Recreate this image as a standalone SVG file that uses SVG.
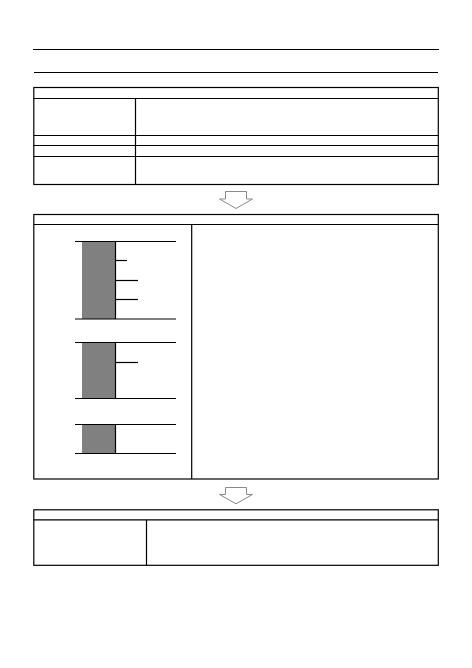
<svg xmlns="http://www.w3.org/2000/svg" width="472" height="668" viewBox="0 0 472 668">
<style>
.ln{stroke:#000;stroke-width:1.2;fill:none}
.box{stroke:#000;stroke-width:1.2;fill:#fff}
.arrow{stroke:#8a8a8a;stroke-width:1;fill:#fff}
.bar{fill:#808080;stroke:none}
</style>
<rect width="472" height="668" fill="#fff"/>
<g id="rules">
<line class="ln" x1="33" y1="49.5" x2="439" y2="49.5"/>
<line class="ln" x1="34" y1="72.5" x2="438" y2="72.5"/>
</g>
<g id="box1">
<rect class="box" x="33.8" y="87.5" width="404.5" height="97"/>
<line class="ln" x1="33.8" y1="98.5" x2="438.3" y2="98.5"/>
<line class="ln" x1="33.8" y1="135.5" x2="438.3" y2="135.5"/>
<line class="ln" x1="33.8" y1="145.5" x2="438.3" y2="145.5"/>
<line class="ln" x1="33.8" y1="156.5" x2="438.3" y2="156.5"/>
<line class="ln" x1="135.5" y1="98.5" x2="135.5" y2="184.5"/>
</g>
<g id="connectors">
<polygon class="arrow" points="225.5,191.5 246.5,191.5 246.5,199 252.5,199 236,208.5 219.5,199 225.5,199"/>
<polygon class="arrow" points="225.5,487.5 246.5,487.5 246.5,494.5 252.5,494.5 236,503.8 219.5,494.5 225.5,494.5"/>
</g>
<g id="box2">
<rect class="box" x="33.8" y="214.5" width="404.5" height="264.5"/>
<line class="ln" x1="33.8" y1="224.5" x2="438.3" y2="224.5"/>
<line class="ln" x1="191.7" y1="224.5" x2="191.7" y2="479"/>
</g>
<g id="chart1">
<rect class="bar" x="82" y="241.5" width="33.5" height="77.5"/>
<line class="ln" x1="75" y1="241.5" x2="176" y2="241.5"/>
<line class="ln" x1="75" y1="319" x2="176" y2="319"/>
<line class="ln" x1="115.5" y1="241.5" x2="115.5" y2="319"/>
<line class="ln" x1="115.5" y1="260.5" x2="127" y2="260.5"/>
<line class="ln" x1="115.5" y1="280.5" x2="138" y2="280.5"/>
<line class="ln" x1="115.5" y1="299.5" x2="138" y2="299.5"/>
</g>
<g id="chart2">
<rect class="bar" x="82" y="342.5" width="33.5" height="56"/>
<line class="ln" x1="75" y1="342.5" x2="176" y2="342.5"/>
<line class="ln" x1="75" y1="398.5" x2="176" y2="398.5"/>
<line class="ln" x1="115.5" y1="342.5" x2="115.5" y2="398.5"/>
<line class="ln" x1="115.5" y1="362.5" x2="138" y2="362.5"/>
</g>
<g id="chart3">
<rect class="bar" x="82" y="424.5" width="33.5" height="29"/>
<line class="ln" x1="75" y1="424.5" x2="176" y2="424.5"/>
<line class="ln" x1="75" y1="453.5" x2="176" y2="453.5"/>
<line class="ln" x1="115.5" y1="424.5" x2="115.5" y2="453.5"/>
</g>
<g id="box3">
<rect class="box" x="33.8" y="509.8" width="404.5" height="55.5"/>
<line class="ln" x1="33.8" y1="519.8" x2="438.3" y2="519.8"/>
<line class="ln" x1="146.5" y1="519.8" x2="146.5" y2="565.3"/>
</g>
</svg>
